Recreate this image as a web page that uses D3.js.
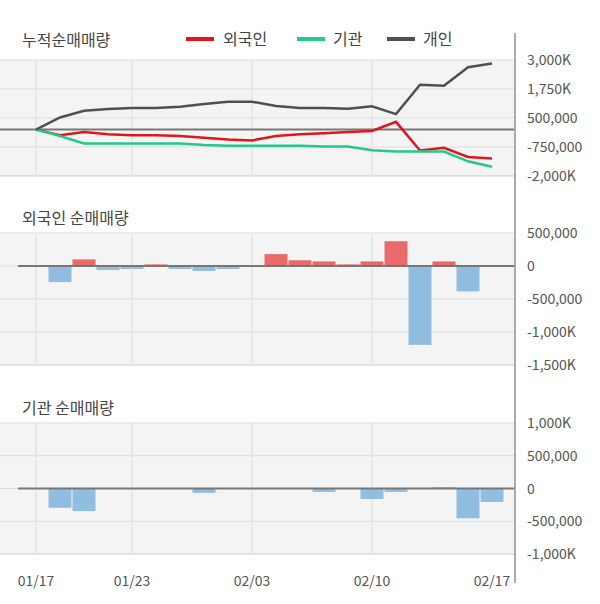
<!DOCTYPE html>
<html><head><meta charset="utf-8">
<script src="https://cdn.jsdelivr.net/npm/d3@7"></script>
<style>body{margin:0;background:#fff}svg{font-family:"Noto Sans CJK KR","Noto Sans",sans-serif}</style>
</head><body><svg id="c" width="600" height="604"></svg>
<script>
const N = 20;
const xTicks = [[0, "01/17"], [4, "01/23"], [9, "02/03"], [14, "02/10"], [19, "02/17"]];
const seriesNames = ["외국인", "기관", "개인"];
const seriesColors = ["#e0161e", "#22c98a", "#505050"];
const cumForeign = [0, -247, -102, -203, -247, -247, -276, -349, -422, -465, -276, -203, -160, -102, -58, 334, -901, -785, -1177, -1250];
const cumInst = [0, -276, -596, -596, -596, -596, -596, -669, -698, -698, -698, -698, -727, -727, -887, -945, -945, -945, -1366, -1599];
const cumIndiv = [0, 523, 814, 887, 930, 930, 988, 1105, 1203, 1203, 1017, 930, 930, 901, 1003, 669, 1933, 1890, 2689, 2849];
const dayForeign = [0, -245, 100, -60, -45, 25, -45, -75, -45, 0, 180, 87, 70, 25, 70, 375, -1195, 70, -385, 0];
const dayInst = [0, -294, -345, 0, 0, 0, 0, -67, 0, 0, 0, 0, -52, 0, -160, -52, 0, 15, -454, -206];
const topTicks = [[3000, "3,000K"], [1750, "1,750K"], [500, "500,000"], [-750, "-750,000"], [-2000, "-2,000K"]];
const fTicks = [[500, "500,000"], [0, "0"], [-500, "-500,000"], [-1000, "-1,000K"], [-1500, "-1,500K"]];
const iTicks = [[1000, "1,000K"], [500, "500,000"], [0, "0"], [-500, "-500,000"], [-1000, "-1,000K"]];

const svg = d3.select("#c");
const W = 515;
const x = d3.scaleLinear().domain([0, N - 1]).range([36, 492]);
const txt = "#555";

function panel(y0, y1, dom, ticks, title, ty) {
  const y = d3.scaleLinear().domain(dom).range([y1, y0]);
  svg.append("rect").attr("x", 0).attr("y", y0).attr("width", W).attr("height", y1 - y0).attr("fill", "#f4f4f4");
  ticks.forEach(([v, l]) => {
    if (v !== dom[0]) svg.append("line").attr("x1", 0).attr("x2", W).attr("y1", y(v)).attr("y2", y(v)).attr("stroke", "#ddd");
    svg.append("text").attr("x", 527).attr("y", y(v) + 5).attr("font-size", 14).attr("fill", txt).text(l);
  });
  svg.append("line").attr("x1", 0).attr("x2", W).attr("y1", y1).attr("y2", y1).attr("stroke", "#ccc");
  xTicks.slice(0, 4).forEach(([i]) => svg.append("line").attr("x1", x(i)).attr("x2", x(i)).attr("y1", y0).attr("y2", y1).attr("stroke", "#ddd"));
  svg.append("text").attr("x", 22).attr("y", ty).attr("font-size", 16).attr("fill", "#444").text(title);
  return y;
}

// cumulative
const yT = panel(60, 176, [-2000, 3000], topTicks, "누적순매매량", 46);
svg.append("line").attr("x1", 0).attr("x2", W).attr("y1", yT(0)).attr("y2", yT(0)).attr("stroke", "#777").attr("stroke-width", 2);
[cumForeign, cumInst, cumIndiv].forEach((s, k) => {
  svg.append("path").datum(s).attr("fill", "none").attr("stroke", seriesColors[k]).attr("stroke-width", 2.5)
    .attr("d", d3.line().x((d, i) => x(i)).y(d => yT(d)));
});
[[186, 223], [297, 333], [387, 423]].forEach(([lx, tx], k) => {
  svg.append("line").attr("x1", lx).attr("x2", lx + 28).attr("y1", 39).attr("y2", 39).attr("stroke", seriesColors[k]).attr("stroke-width", 4);
  svg.append("text").attr("x", tx).attr("y", 45).attr("font-size", 16).attr("fill", "#444").text(seriesNames[k]);
});

function bars(y, data) {
  data.forEach((v, i) => {
    if (!v) return;
    svg.append("rect").attr("x", x(i) - 11.5).attr("width", 23)
      .attr("y", y(Math.max(0, v))).attr("height", Math.abs(y(v) - y(0)))
      .attr("fill", v > 0 ? "#e86a6a" : "#90bde0");
  });
  svg.append("line").attr("x1", 18).attr("x2", W).attr("y1", y(0)).attr("y2", y(0)).attr("stroke", "#777").attr("stroke-width", 2);
}
const yF = panel(233, 365, [-1500, 500], fTicks, "외국인 순매매량", 224);
bars(yF, dayForeign);
const yI = panel(423, 554, [-1000, 1000], iTicks, "기관 순매매량", 414);
bars(yI, dayInst);

svg.append("line").attr("x1", W).attr("x2", W).attr("y1", 33).attr("y2", 583).attr("stroke", "#aaa").attr("stroke-width", 2);
xTicks.forEach(([i, l]) => svg.append("text").attr("x", x(i)).attr("y", 586).attr("text-anchor", "middle").attr("font-size", 14).attr("fill", txt).text(l));
</script></body></html>
